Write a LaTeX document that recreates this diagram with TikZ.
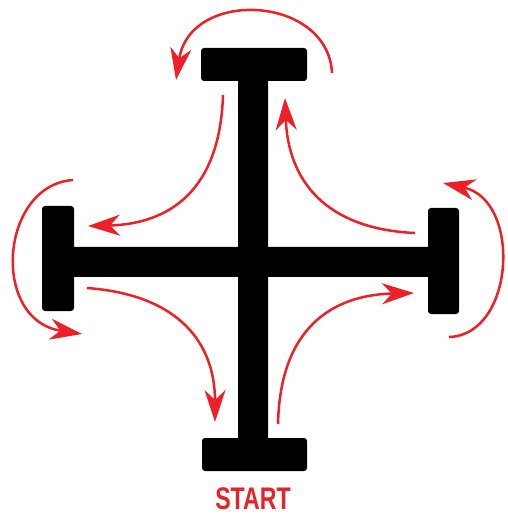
\documentclass[tikz,border=0pt]{standalone}
\usepackage{graphicx}
\usepackage{fontspec}
\newfontfamily\startfont{Liberation Sans}
\usetikzlibrary{arrows.meta, positioning}
\definecolor{arrowred}{RGB}{236,32,38}

\begin{document}
\begin{tikzpicture}[
  x=0.02cm, y=-0.02cm,
  > = {Stealth[length=6.4mm, width=4.2mm, inset=2mm]},
  bar/.style = {fill=black, rounded corners=0.6mm},
  turn/.style = {draw=arrowred, line width=0.5mm, ->}
  ]
  \useasboundingbox (0,0) rectangle (507,516);
  % cross
  \fill[bar] (238,70) rectangle (268,450);
  \fill[bar] (60,247) rectangle (440,277);
  \fill[bar] (201,48) rectangle (307,81);
  \fill[bar] (202,438) rectangle (307,471);
  \fill[bar] (42,206) rectangle (74,311);
  \fill[bar] (428,208) rectangle (459,314);
  % ends of the turns
  \coordinate (top-a) at (332,73);   \coordinate (top-b) at (176,80);
  \coordinate (tl-a) at (223,95);    \coordinate (tl-b) at (88,226);
  \coordinate (left-a) at (73,180);  \coordinate (left-b) at (82,334);
  \coordinate (bl-a) at (87,288);    \coordinate (bl-b) at (215,422);
  \coordinate (br-a) at (278,424);   \coordinate (br-b) at (414,293);
  \coordinate (right-a) at (449,337);\coordinate (right-b) at (443,183);
  \coordinate (tr-a) at (415,233);   \coordinate (tr-b) at (285,98);
  \draw[turn] (top-a) .. controls (328,-5) and (190,-12) .. (top-b);
  \draw[turn] (tl-a) .. controls (220,190) and (170,224) .. (tl-b);
  \draw[turn] (left-a) .. controls (0,185) and (-10,320) .. (left-b);
  \draw[turn] (bl-a) .. controls (181,295) and (215,345) .. (bl-b);
  \draw[turn] (br-a) .. controls (280,330) and (330,295) .. (br-b);
  \draw[turn] (right-a) .. controls (515,335) and (522,200) .. (right-b);
  \draw[turn] (tr-a) .. controls (325,229) and (288,180) .. (tr-b);
  \node[text=arrowred, anchor=base, inner sep=0pt,
    font=\startfont\bfseries\fontsize{17.8}{18}\selectfont] (start) at (253,509)
    {\scalebox{0.74}[1]{START}};
\end{tikzpicture}
\end{document}
